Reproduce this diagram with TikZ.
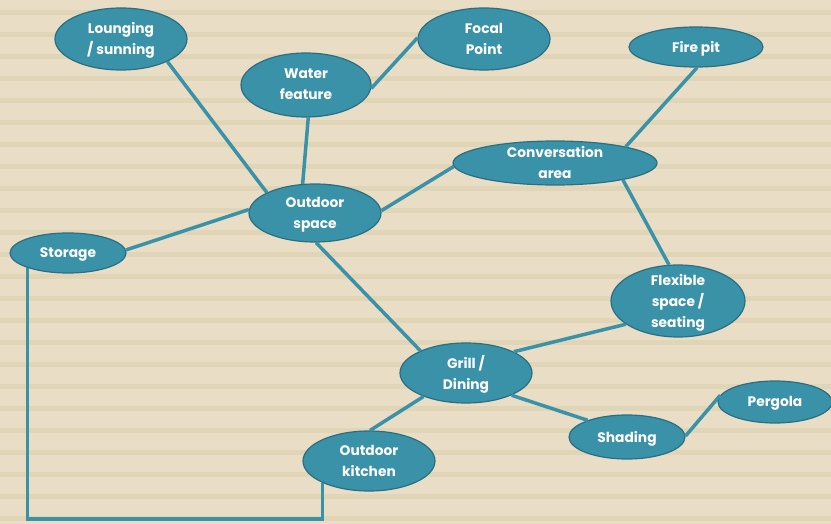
\documentclass[tikz,border=0pt]{standalone}
\usepackage{fontspec}
\setmainfont{Poppins}
\usetikzlibrary{shapes.geometric}

\definecolor{paper}{HTML}{E9DDC5}
\definecolor{stripe}{HTML}{E1D5B7}
\definecolor{teal}{HTML}{3A92A9}
\definecolor{tealdark}{HTML}{2A6E82}

\tikzset{
  idea/.style={ellipse, fill=teal, draw=tealdark, line width=1.2pt,
    inner xsep=0pt, inner ysep=-6pt, text=white, align=center,
    text depth=1pt, font=\fontsize{13.8}{21}\selectfont\bfseries},
  link/.style={teal, line width=3.5pt}
}

\begin{document}
\begin{tikzpicture}[x=1pt, y=-1pt]
        % Background with stripes
        \useasboundingbox (0,0) rectangle (831,524);
        \fill[paper] (0,0) rectangle (831,524);
        \foreach \k in {0,...,23}
            \fill[stripe] (0,10+22*\k) rectangle (831,15+22*\k);

        % Ideas
        \node[idea, minimum width=132, minimum height=62] (lounge) at (121,39) {Lounging\\/ sunning};
        \node[idea, minimum width=130, minimum height=64] (water) at (306,85) {Water\\feature};
        \node[idea, minimum width=132, minimum height=62] (focal) at (484,39) {Focal\\Point};
        \node[idea, minimum width=134, minimum height=40] (fire) at (696,47) {Fire pit};
        \node[idea, minimum width=204, minimum height=44] (convo) at (555,163) {Conversation\\area};
        \node[idea, minimum width=132, minimum height=58] (outdoor) at (315,213) {Outdoor\\space};
        \node[idea, minimum width=116, minimum height=40] (storage) at (68,253) {Storage};
        \node[idea, minimum width=134, minimum height=72] (flex) at (678,301) {Flexible\\space /\\seating};
        \node[idea, minimum width=132, minimum height=60] (grill) at (466,373) {Grill /\\Dining};
        \node[idea, minimum width=114, minimum height=42] (pergola) at (775,402) {Pergola};
        \node[idea, minimum width=116, minimum height=44] (shading) at (627,437) {Shading};
        \node[idea, minimum width=132, minimum height=60] (kitchen) at (369,461) {Outdoor\\kitchen};

        % Links
        \draw[link] (lounge.-26) -- (outdoor.157);
        \draw[link] (water.-86) -- (outdoor.113);
        \draw[link] (water.-3) -- (focal.179);
        \draw[link] (outdoor.2) -- (convo.182);
        \draw[link] (convo.13) -- (fire.-87);
        \draw[link] (convo.-14) -- (flex.104);
        \draw[link] (storage.3) -- (outdoor.177);
        \draw[link] (outdoor.-88) -- (grill.154);
        \draw[link] (grill.24) -- (flex.-156);
        \draw[link] (grill.-26) -- (shading.157);
        \draw[link] (shading.1) -- (pergola.173);
        \draw[link] (grill.-151) -- (kitchen.88);

        % Storage to kitchen
        \coordinate (base) at (0,519);
        \draw[link, line join=miter] (storage.-160) -- (storage.-160 |- base) -| (kitchen.-155);
    \end{tikzpicture}
\end{document}
